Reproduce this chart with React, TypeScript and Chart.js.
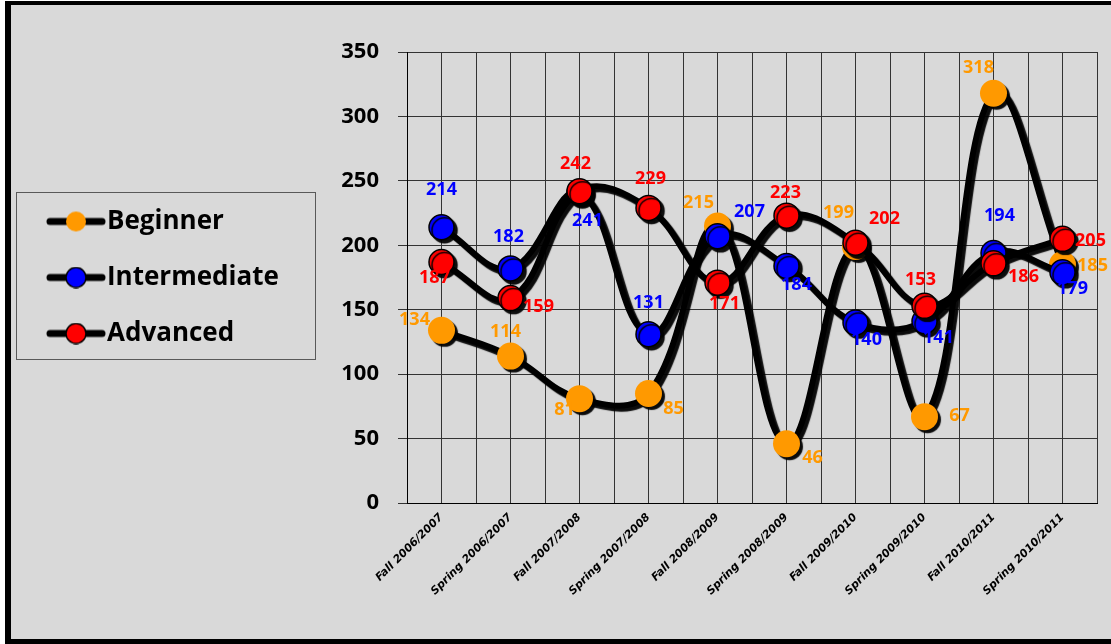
import { useEffect, useRef } from "react";
import { Chart, registerables } from "chart.js";

Chart.register(...registerables);

// ---------------- data ----------------
const categories = [
  "Fall 2006/2007",
  "Spring 2006/2007",
  "Fall 2007/2008",
  "Spring 2007/2008",
  "Fall 2008/2009",
  "Spring 2008/2009",
  "Fall 2009/2010",
  "Spring 2009/2010",
  "Fall 2010/2011",
  "Spring 2010/2011",
];
const beginner = [134, 114, 81, 85, 215, 46, 199, 67, 318, 185];
const intermediate = [214, 182, 241, 131, 207, 184, 140, 141, 194, 179];
const advanced = [187, 159, 242, 229, 171, 223, 202, 153, 186, 205];
const seriesNames = ["Beginner", "Intermediate", "Advanced"];
const yMin = 0;
const yMax = 350;
const yStep = 50;

// ---------------- styling ----------------
const seriesColors = ["#FF9900", "#0000FF", "#FF0000"];
const seriesOutlined = [false, true, true];
// per-label placement offsets (px) relative to their point
const beginnerLabelOffsets = [
  [-27, -10], [-5, -24], [-15, 11], [25, 15], [-19, -23],
  [26, 14], [-17, -34], [35, -1], [-15, -25], [30, 1],
];
const intermediateLabelOffsets = [
  [0, -37], [-2, -32], [8, 28], [0, -31], [32, -24],
  [10, 19], [11, 17], [14, 17], [6, -37], [10, 17],
];
const advancedLabelOffsets = [
  [-7, 16], [28, 9], [-4, -27], [2, -29], [7, 21],
  [-1, -23], [29, -24], [-4, -26], [30, 14], [28, 2],
];
const labelOffsets = [beginnerLabelOffsets, intermediateLabelOffsets, advancedLabelOffsets];

const CANVAS_W = 1100;
const CANVAS_H = 634;
const PLOT_LEFT = 396;
const PAD_LEFT = 17;

function makeMarker(color: string, outlined: boolean) {
  const c = document.createElement("canvas");
  c.width = 60;
  c.height = 22;
  const g = c.getContext("2d")!;
  g.strokeStyle = "#000";
  g.lineWidth = 7;
  g.lineCap = "round";
  g.beginPath();
  g.moveTo(4, 11);
  g.lineTo(56, 11);
  g.stroke();
  g.beginPath();
  g.arc(30, 11, 10, 0, Math.PI * 2);
  g.fillStyle = color;
  g.fill();
  if (outlined) {
    g.lineWidth = 1.5;
    g.stroke();
  }
  return c;
}

const shadowPlugin = {
  id: "shadow",
  beforeDatasetDraw(chart: any) {
    const ctx = chart.ctx;
    ctx.save();
    ctx.shadowColor = "rgba(0,0,0,0.95)";
    ctx.shadowOffsetX = 3;
    ctx.shadowOffsetY = 3;
    ctx.shadowBlur = 1;
  },
  afterDatasetDraw(chart: any) {
    chart.ctx.restore();
  },
};

const dataLabelPlugin = {
  id: "dataLabels",
  afterDatasetDraw(chart: any, args: any) {
    const i = args.index;
    const ds = chart.data.datasets[i];
    const meta = args.meta;
    const ctx = chart.ctx;
    ctx.save();
    ctx.shadowColor = "rgba(0,0,0,0)";
    ctx.font = 'bold 18px "Open Sans"';
    ctx.textAlign = "center";
    ctx.textBaseline = "middle";
    ctx.fillStyle = seriesColors[i];
    meta.data.forEach((pt: any, j: number) => {
      const [dx, dy] = labelOffsets[i][j];
      ctx.fillText(String(ds.data[j]), pt.x + dx, pt.y + dy);
    });
    ctx.restore();
  },
};

const legendBoxPlugin = {
  id: "legendBox",
  afterDraw(chart: any) {
    const lg = chart.legend;
    if (!lg || !lg.legendHitBoxes || !lg.legendHitBoxes.length) return;
    const hb = lg.legendHitBoxes;
    const left = lg.left - 12;
    const right = lg.left + 287;
    const top = hb[0].top - 17;
    const bottom = hb[hb.length - 1].top + hb[hb.length - 1].height + 12;
    const ctx = chart.ctx;
    ctx.save();
    ctx.strokeStyle = "#595959";
    ctx.lineWidth = 1;
    ctx.strokeRect(Math.round(left) + 0.5, Math.round(top) + 0.5, Math.round(right - left), Math.round(bottom - top));
    ctx.restore();
  },
};

export default function App() {
  const ref = useRef<HTMLCanvasElement | null>(null);

  useEffect(() => {
    if (!ref.current) return;
    const markers = seriesColors.map((c, i) => makeMarker(c, seriesOutlined[i]));
    const values = [beginner, intermediate, advanced];
    const datasets = values.map((vals, i) => ({
      label: seriesNames[i],
      data: vals,
      order: 2 - i,
      borderColor: "#000",
      borderWidth: 6,
      tension: 0.4,
      fill: false,
      pointRadius: seriesOutlined[i] ? 12.5 : 13.5,
      pointBackgroundColor: seriesColors[i],
      pointBorderColor: seriesOutlined[i] ? "#000" : seriesColors[i],
      pointBorderWidth: seriesOutlined[i] ? 1.5 : 0,
      pointHoverRadius: seriesOutlined[i] ? 12.5 : 13.5,
    }));

    const chart = new Chart(ref.current, {
      type: "line",
      data: { labels: categories, datasets },
      plugins: [shadowPlugin, dataLabelPlugin, legendBoxPlugin],
      options: {
        responsive: false,
        animation: false,
        events: [],
        layout: { padding: { left: PAD_LEFT, top: 47, right: 9, bottom: 0 } },
        plugins: {
          tooltip: { enabled: false },
          legend: {
            position: "left",
            fullSize: false,
            align: "center",
            labels: {
              usePointStyle: true,
              pointStyleWidth: 36,
              padding: 30,
              color: "#000",
              font: { family: '"Open Sans"', size: 26, weight: "bold" },
              generateLabels: (ch: any) =>
                ch.data.datasets.map((ds: any, i: number) => ({
                  text: ds.label,
                  pointStyle: markers[i],
                  fillStyle: seriesColors[i],
                  strokeStyle: "#000",
                  lineWidth: 0,
                  hidden: false,
                  datasetIndex: i,
                  fontColor: "#000",
                })),
            },
          },
        },
        scales: {
          x: {
            type: "category",
            offset: true,
            grid: { color: "#333", drawTicks: false, offset: false, lineWidth: 1 },
            border: { color: "#000", width: 1 },
            ticks: {
              autoSkip: false,
              minRotation: 45,
              maxRotation: 45,
              padding: 8,
              color: "#000",
              font: { family: '"DejaVu Sans"', size: 11, weight: "bold", style: "italic" },
            },
            afterFit: (s: any) => {
              s.height = 136;
            },
          },
          x2: {
            type: "category",
            position: "bottom",
            labels: categories,
            offset: true,
            grid: { color: "#333", drawTicks: false, offset: true, lineWidth: 1 },
            border: { display: false },
            ticks: { display: false },
            afterFit: (s: any) => {
              s.height = 0;
            },
          },
          y: {
            min: yMin,
            max: yMax,
            ticks: {
              stepSize: yStep,
              padding: 19,
              color: "#000",
              font: { family: '"Open Sans"', size: 22, weight: "bold" },
            },
            grid: { color: "#333", tickLength: 9, drawTicks: true, lineWidth: 1 },
            border: { color: "#000", width: 1 },
            afterFit: (s: any) => {
              const lw = s.chart.legend ? s.chart.legend.width || 0 : 0;
              s.width = PLOT_LEFT - PAD_LEFT - lw;
            },
          },
        },
      },
    } as any);
    return () => chart.destroy();
  }, []);

  return (
    <div
      style={{
        position: "fixed",
        left: 0,
        top: 0,
        width: 1111,
        height: 644,
        overflow: "hidden",
        background: "#fff",
      }}
    >
      <div
        style={{
          position: "absolute",
          left: 5,
          top: 1,
          width: 1200,
          height: CANVAS_H,
          borderLeft: "6px solid #000",
          borderTop: "4px solid #000",
          borderBottom: "6px solid #000",
          background: "#D9D9D9",
        }}
      >
        <canvas
          ref={ref}
          width={CANVAS_W}
          height={CANVAS_H}
          style={{ display: "block", width: CANVAS_W, height: CANVAS_H }}
        />
      </div>
    </div>
  );
}
